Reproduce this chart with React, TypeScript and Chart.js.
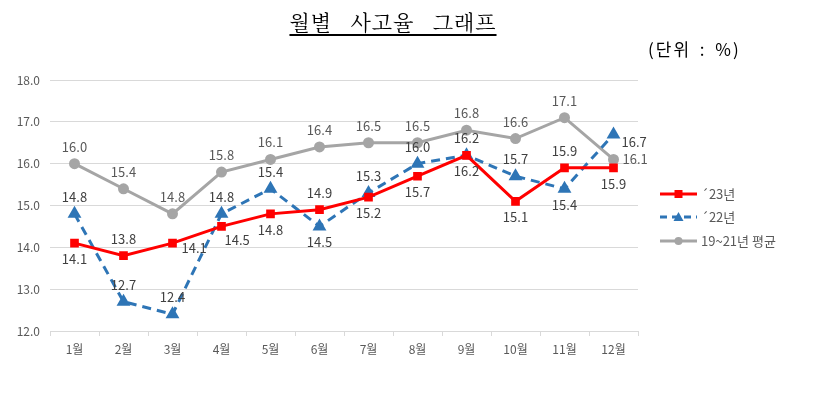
import React, { useEffect, useRef } from "react";
import { Chart, registerables } from "chart.js";
Chart.register(...registerables);

const months = ["1월", "2월", "3월", "4월", "5월", "6월", "7월", "8월", "9월", "10월", "11월", "12월"];
const rate23 = [14.1, 13.8, 14.1, 14.5, 14.8, 14.9, 15.2, 15.7, 16.2, 15.1, 15.9, 15.9];
const rate22 = [14.8, 12.7, 12.4, 14.8, 15.4, 14.5, 15.3, 16.0, 16.2, 15.7, 15.4, 16.7];
const rateAvg = [16.0, 15.4, 14.8, 15.8, 16.1, 16.4, 16.5, 16.5, 16.8, 16.6, 17.1, 16.1];
const seriesNames = ["´23년", "´22년", "19~21년 평균"];
const yMin = 12;
const yMax = 18;
const yStep = 1;

// label placement: t = above, b = below, r = right, rm = right-middle, rd = right-down, rb = right-below
const place23 = ["b", "t", "r", "rb", "b", "t", "b", "b", "b", "b", "t", "b"];
const place22 = ["t", "t", "t", "t", "t", "b", "t", "t", "t", "t", "b", "rd"];
const placeAvg = ["t", "t", "t", "t", "t", "t", "t", "t", "t", "t", "t", "rm"];

const RED = "#FF0000";
const BLUE = "#2E75B6";
const GRAY = "#A5A5A5";
const FONT = "'Noto Sans CJK KR', 'Noto Sans', sans-serif";

const labelPlugin = {
  id: "pointLabels",
  afterDatasetsDraw(chart: any) {
    const ctx = chart.ctx;
    const places = [place23, place22, placeAvg];
    const colors = ["#404040", "#404040", "#595959"];
    ctx.save();
    ctx.font = `13px ${FONT}`;
    ctx.textBaseline = "middle";
    chart.data.datasets.forEach((ds: any, di: number) => {
      const meta = chart.getDatasetMeta(di);
      meta.data.forEach((pt: any, i: number) => {
        const txt = Number(ds.data[i]).toFixed(1);
        const p = places[di][i];
        let x = pt.x;
        let y = pt.y;
        ctx.fillStyle = colors[di];
        if (p === "t") {
          ctx.textAlign = "center";
          y -= 17;
        } else if (p === "b") {
          ctx.textAlign = "center";
          y += 16;
        } else if (p === "r") {
          ctx.textAlign = "left";
          x += 9;
          y += 5;
        } else if (p === "rm") {
          ctx.textAlign = "left";
          x += 9;
          y += 0;
        } else if (p === "rd") {
          ctx.textAlign = "left";
          x += 8;
          y += 8;
        } else {
          ctx.textAlign = "left";
          x += 3;
          y += 14;
        }
        ctx.fillText(txt, x, y);
      });
    });
    ctx.restore();
  },
};

const legendPlugin = {
  id: "customLegend",
  afterDraw(chart: any) {
    const ctx = chart.ctx;
    const rows = [194, 217, 241];
    const x0 = 660;
    const x1 = 697;
    const cols = [RED, BLUE, GRAY];
    ctx.save();
    rows.forEach((ry, i) => {
      ctx.strokeStyle = cols[i];
      ctx.fillStyle = cols[i];
      ctx.lineWidth = 3;
      ctx.setLineDash(i === 1 ? [7, 5] : []);
      ctx.beginPath();
      ctx.moveTo(x0, ry);
      ctx.lineTo(x1, ry);
      ctx.stroke();
      ctx.setLineDash([]);
      const cx = (x0 + x1) / 2;
      ctx.beginPath();
      if (i === 0) {
        ctx.rect(cx - 4, ry - 4, 8, 8);
      } else if (i === 1) {
        ctx.moveTo(cx, ry - 5);
        ctx.lineTo(cx + 5, ry + 4);
        ctx.lineTo(cx - 5, ry + 4);
        ctx.closePath();
      } else {
        ctx.arc(cx, ry, 4, 0, Math.PI * 2);
      }
      ctx.fill();
      ctx.fillStyle = "#595959";
      ctx.font = `13px ${FONT}`;
      ctx.textAlign = "left";
      ctx.textBaseline = "middle";
      ctx.fillText(seriesNames[i], x1 + 4, ry);
    });
    ctx.restore();
  },
};

export default function App() {
  const ref = useRef<HTMLCanvasElement>(null);
  useEffect(() => {
    if (!ref.current) return;
    const chart = new Chart(ref.current, {
      type: "line",
      data: {
        labels: months,
        datasets: [
          {
            label: seriesNames[0],
            data: rate23,
            borderColor: RED,
            backgroundColor: RED,
            borderWidth: 3,
            pointStyle: "rect",
            pointRadius: 4,
            tension: 0,
          },
          {
            label: seriesNames[1],
            data: rate22,
            borderColor: BLUE,
            backgroundColor: BLUE,
            borderWidth: 3,
            borderDash: [9, 6],
            pointStyle: "triangle",
            pointRadius: 5,
            tension: 0,
          },
          {
            label: seriesNames[2],
            data: rateAvg,
            borderColor: GRAY,
            backgroundColor: GRAY,
            borderWidth: 3,
            pointStyle: "circle",
            pointRadius: 4,
            tension: 0,
          },
        ],
      },
      options: {
        responsive: false,
        animation: false,
        layout: { padding: { left: 0, right: 182, top: 80, bottom: 0 } },
        plugins: {
          legend: { display: false },
          title: { display: false },
          tooltip: { enabled: false },
        },
        scales: {
          x: {
            offset: true,
            grid: {
              display: true,
              drawOnChartArea: false,
              drawTicks: true,
              tickLength: 5,
              color: "#D9D9D9",
              offset: true,
            },
            border: { display: true, color: "#D9D9D9" },
            ticks: {
              color: "#595959",
              font: { size: 12, family: FONT },
              padding: 6,
              maxRotation: 0,
            },
            afterFit: (s: any) => {
              s.height = 69;
            },
          },
          y: {
            min: yMin,
            max: yMax,
            ticks: {
              stepSize: yStep,
              color: "#595959",
              font: { size: 12, family: FONT },
              padding: 10,
              callback: (v: any) => Number(v).toFixed(1),
            },
            grid: { color: "#D9D9D9", drawTicks: false, lineWidth: 1 },
            border: { display: false },
            afterFit: (s: any) => {
              s.width = 50;
            },
          },
        },
      },
      plugins: [labelPlugin, legendPlugin],
    });
    return () => chart.destroy();
  }, []);

  return (
    <div style={{ position: "absolute", left: 0, top: 0, width: 820, height: 400, background: "#fff" }}>
      <canvas ref={ref} width={820} height={400} style={{ position: "absolute", left: 0, top: 0 }} />
      <div
        style={{
          position: "absolute",
          left: 0,
          width: 786,
          top: 6,
          textAlign: "center",
          fontFamily: "'Noto Serif CJK KR', 'Noto Sans CJK KR', serif",
          fontSize: 21,
          lineHeight: "30px",
          wordSpacing: 12,
          letterSpacing: 1,
          color: "#000",
        }}
      >
        <span style={{ textDecoration: "underline", textUnderlineOffset: 4 }}>월별 사고율 그래프</span>
      </div>
      <div
        style={{
          position: "absolute",
          left: 648,
          top: 37,
          fontFamily: "'Noto Sans CJK KR', serif",
          fontSize: 17,
          lineHeight: "24px",
          letterSpacing: 2,
          wordSpacing: 3,
          color: "#000",
          whiteSpace: "pre",
        }}
      >
        (단위 : %)
      </div>
    </div>
  );
}
